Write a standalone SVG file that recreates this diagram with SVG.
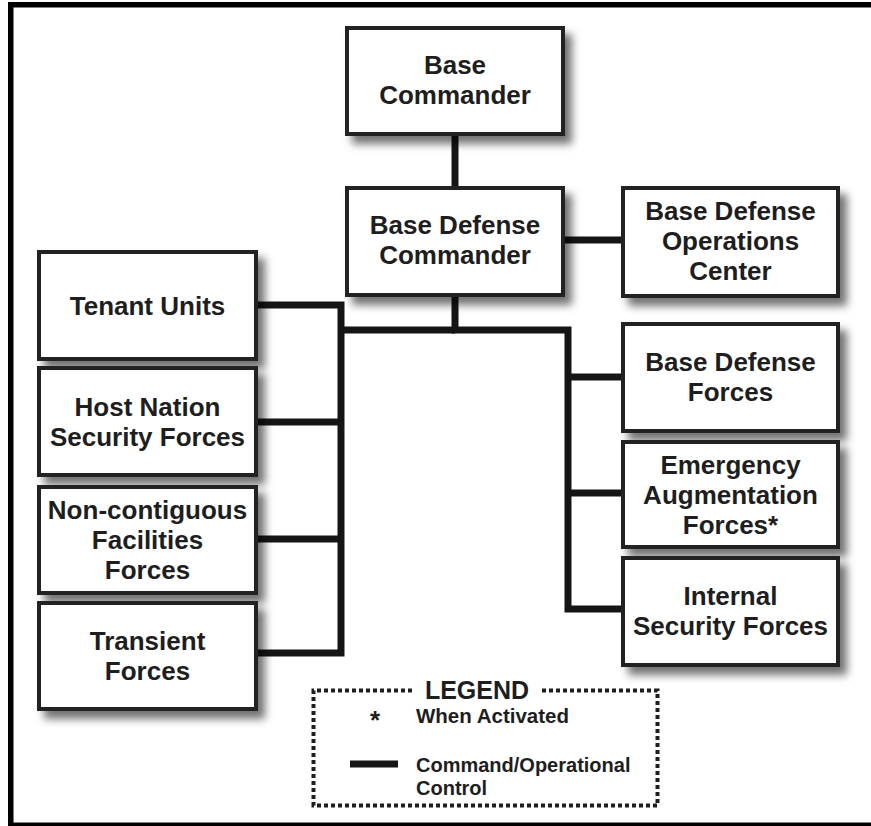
<svg xmlns="http://www.w3.org/2000/svg" width="871" height="826" viewBox="0 0 871 826">
<defs>
<filter id="sh" x="-10%" y="-10%" width="130%" height="140%">
<feDropShadow dx="7" dy="8" stdDeviation="4" flood-color="#000" flood-opacity="0.55"/>
</filter>
<style>
.box{fill:#fff;stroke:#222;stroke-width:4;filter:url(#sh)}
.t{font-family:"Liberation Sans",Arial,sans-serif;font-weight:bold;font-size:26px;fill:#1e1e1e;text-anchor:middle}
.c{fill:none;stroke:#151515;stroke-width:7;stroke-linejoin:miter}
.lg{font-family:"Liberation Sans",Arial,sans-serif;fill:#1e1e1e}
</style>
</defs>
<rect x="0" y="0" width="871" height="826" fill="#fff"/>
<rect x="10.75" y="4.75" width="880" height="820.5" fill="none" stroke="#000" stroke-width="5.5"/>

<g id="connectors">
<path class="c" d="M455 133 V190"/>
<path class="c" d="M563 240 H625"/>
<path class="c" d="M455 294 V330 H568 V609 H625"/>
<path class="c" d="M568 377 H625 M568 493 H625"/>
<path class="c" d="M455 330 H341"/>
<path class="c" d="M254 305 H341 V653 H254"/>
<path class="c" d="M254 422 H341 M254 539 H341"/>
</g>

<g id="base-commander">
<rect class="box" x="347" y="28" width="216" height="106"/>
<text class="t" x="455" y="74">Base</text>
<text class="t" x="455" y="104">Commander</text>
</g>
<g id="base-defense-commander">
<rect class="box" x="347" y="188" width="216" height="107"/>
<text class="t" x="455" y="234">Base Defense</text>
<text class="t" x="455" y="264">Commander</text>
</g>
<g id="bdoc">
<rect class="box" x="623" y="188" width="215" height="108"/>
<text class="t" x="730.5" y="220">Base Defense</text>
<text class="t" x="730.5" y="250">Operations</text>
<text class="t" x="730.5" y="280">Center</text>
</g>
<g id="tenant-units">
<rect class="box" x="39" y="252" width="217" height="107"/>
<text class="t" x="147.5" y="315">Tenant Units</text>
</g>
<g id="host-nation">
<rect class="box" x="39" y="368" width="217" height="107"/>
<text class="t" x="147.5" y="416">Host Nation</text>
<text class="t" x="147.5" y="446">Security Forces</text>
</g>
<g id="non-contiguous">
<rect class="box" x="39" y="487" width="217" height="106"/>
<text class="t" x="147.5" y="519">Non-contiguous</text>
<text class="t" x="147.5" y="549">Facilities</text>
<text class="t" x="147.5" y="579">Forces</text>
</g>
<g id="transient">
<rect class="box" x="39" y="603" width="217" height="106"/>
<text class="t" x="147.5" y="650">Transient</text>
<text class="t" x="147.5" y="680">Forces</text>
</g>
<g id="base-defense-forces">
<rect class="box" x="623" y="324" width="215" height="107"/>
<text class="t" x="730.5" y="371">Base Defense</text>
<text class="t" x="730.5" y="401">Forces</text>
</g>
<g id="emergency">
<rect class="box" x="623" y="442" width="215" height="105"/>
<text class="t" x="730.5" y="474">Emergency</text>
<text class="t" x="730.5" y="504">Augmentation</text>
<text class="t" x="730.5" y="534">Forces*</text>
</g>
<g id="internal">
<rect class="box" x="623" y="558" width="215" height="107"/>
<text class="t" x="730.5" y="605">Internal</text>
<text class="t" x="730.5" y="635">Security Forces</text>
</g>

<g id="legend">
<path d="M412 690.5 H313.5 V805.5 H657.5 V690.5 H541" fill="none" stroke="#1e1e1e" stroke-width="4" stroke-dasharray="4,3"/>
<text class="lg" x="477" y="699" font-size="25" font-weight="bold" text-anchor="middle">LEGEND</text>
<text class="lg" x="375" y="729" font-size="26" font-weight="bold" text-anchor="middle">*</text>
<text class="lg" x="416" y="723" font-size="20.5" font-weight="bold">When Activated</text>
<line x1="350" y1="764" x2="398" y2="764" stroke="#151515" stroke-width="7"/>
<text class="lg" x="416" y="772" font-size="20" font-weight="bold">Command/Operational</text>
<text class="lg" x="416" y="795" font-size="20" font-weight="bold">Control</text>
</g>
</svg>
